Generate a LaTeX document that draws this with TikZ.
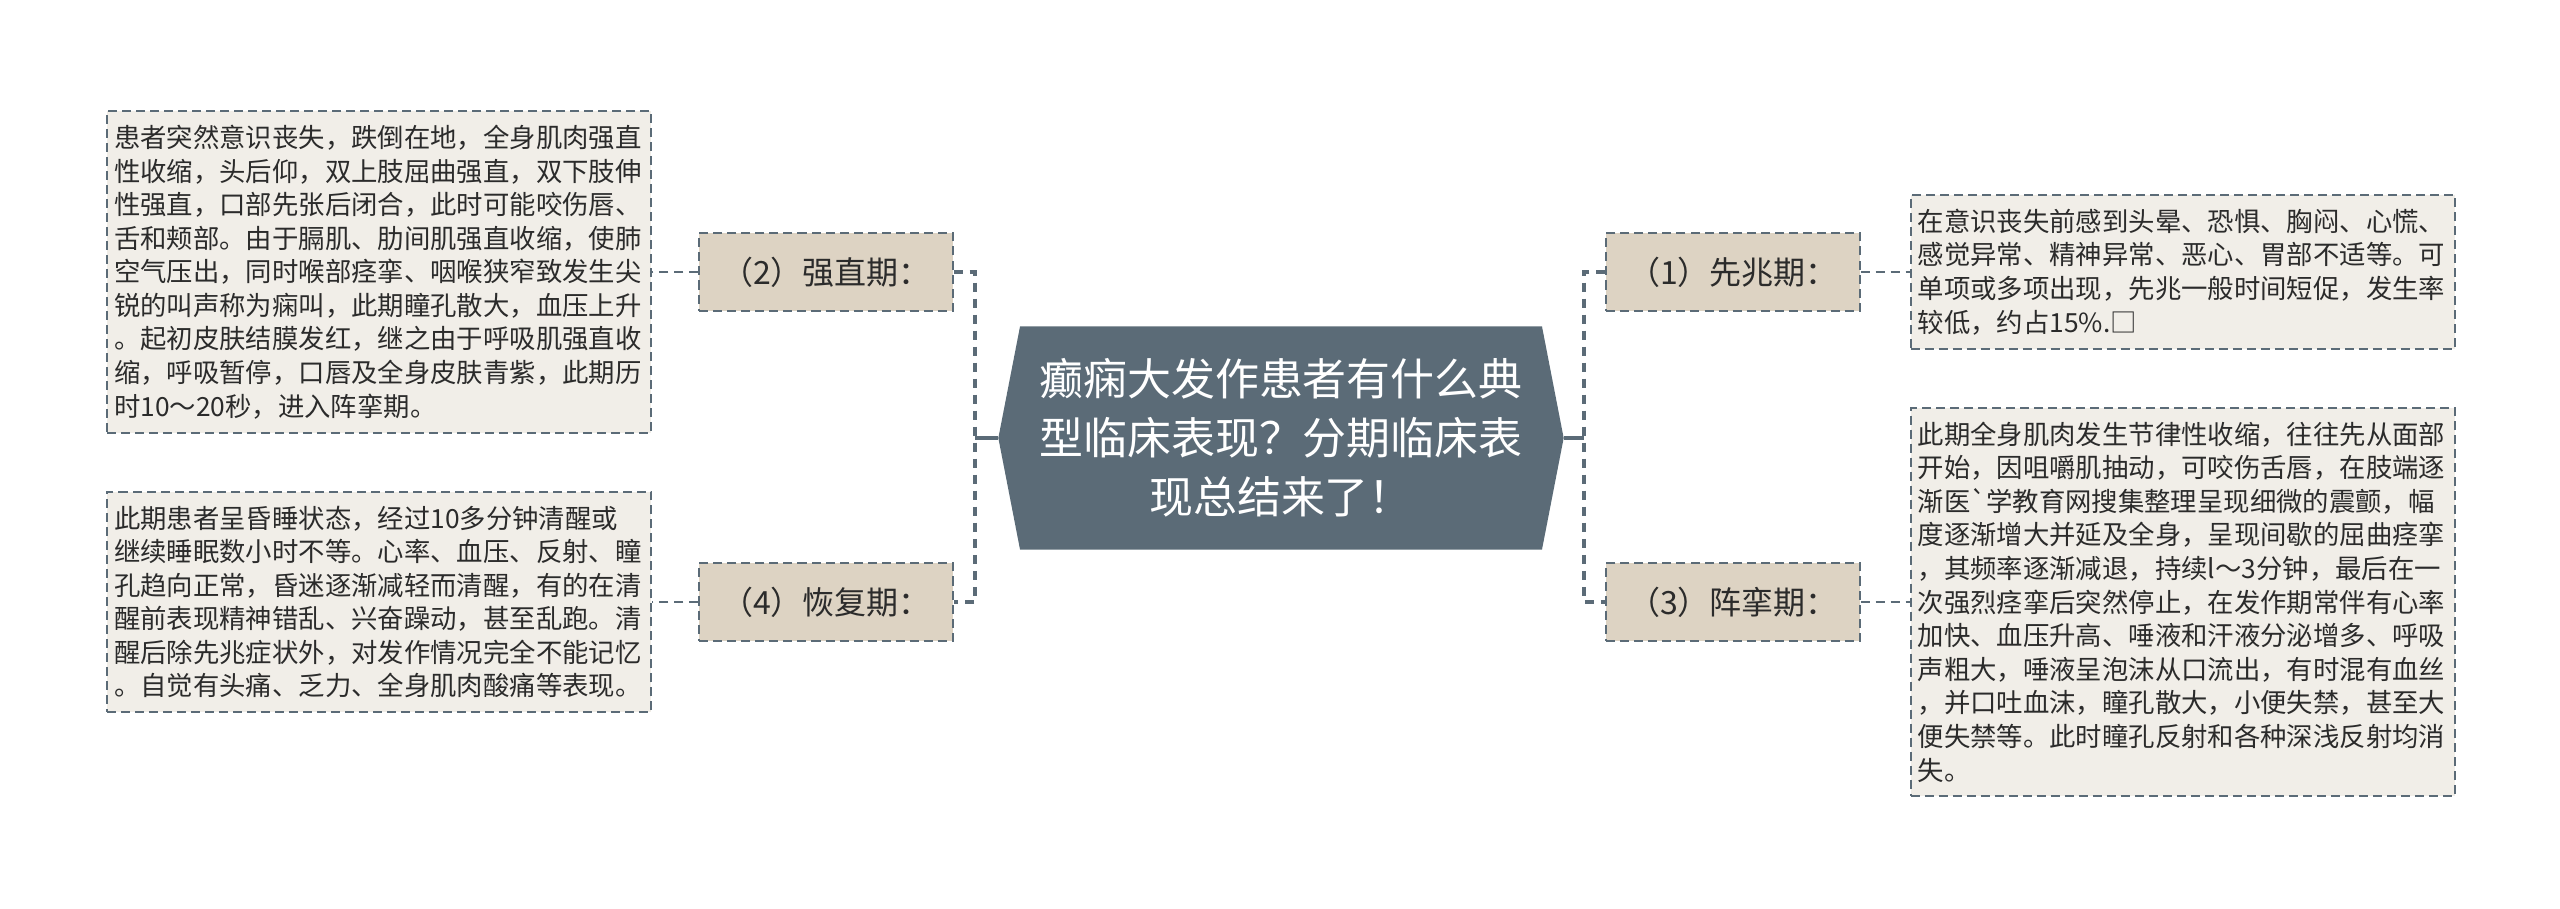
\documentclass[tikz,border=0pt]{standalone}
\usepackage{fontspec}
\setmainfont{Noto Sans CJK SC}
\usetikzlibrary{shapes.symbols,positioning}

\definecolor{slate}{HTML}{5B6B77}
\definecolor{sand}{HTML}{DDD3C3}
\definecolor{paper}{HTML}{F1EEE8}
\definecolor{ink}{HTML}{2B2B2B}

\begin{document}
\begin{tikzpicture}[
        x=0.01cm, y=-0.01cm,
        font=\fontsize{7.5pt}{9.55pt}\selectfont,
        node distance=0.47cm,
        hub/.style={
            signal,
            signal to=west and east,
            signal pointer angle=158,
            fill=slate,
            text=white,
            minimum width=5.65cm,
            minimum height=2.23cm,
            align=center,
            font=\fontsize{12.5pt}{16.8pt}\selectfont
        },
        phase/.style={
            rectangle,
            draw=slate,
            line width=0.02cm,
            dash pattern=on 0.09cm off 0.05cm,
            fill=sand,
            text=ink,
            minimum width=2.53cm,
            minimum height=0.77cm,
            font=\fontsize{9.1pt}{11pt}\selectfont
        },
        detail/.style={
            rectangle,
            draw=slate,
            line width=0.02cm,
            dash pattern=on 0.09cm off 0.05cm,
            fill=paper,
            text=ink,
            text width=5.3cm,
            inner xsep=0.07cm,
            inner ysep=0.14cm,
            align=left
        },
        link/.style={
            draw=slate,
            line width=0.02cm,
            dash pattern=on 0.09cm off 0.06cm
        },
        trunk/.style={
            draw=slate,
            line width=0.035cm,
            dash pattern=on 0.09cm off 0.07cm
        },
        stub/.style={
            draw=slate,
            line width=0.035cm
        }
    ]
    \useasboundingbox (0,0) rectangle (2560,909);
    % Central topic
    \node[hub] (topic) at (1281,438) {癫痫大发作患者有什么典\\型临床表现？分期临床表\\现总结来了！};
    % Phase labels
    \node[phase] (l2) at (826,272) {（2）强直期：};
    \node[phase] (l4) at (826,602) {（4）恢复期：};
    \node[phase] (l1) at (1733,272) {（1）先兆期：};
    \node[phase] (l3) at (1733,602) {（3）阵挛期：};
    % Junctions
    \coordinate (jl) at (975,438);
    \coordinate (jr) at (1584,438);
    % Topic to phases
    \draw[stub] (topic.west) -- (jl);
    \draw[stub] (topic.east) -- (jr);
    \draw[trunk] (l2.east) -| (jl) |- (l4.east);
    \draw[trunk] (l1.west) -| (jr) |- (l3.west);
    % Detail boxes
    \node[detail, left=0.46cm of l2] (d2) {患者突然意识丧失，跌倒在地，全身肌肉强直\\性收缩，头后仰，双上肢屈曲强直，双下肢伸\\性强直，口部先张后闭合，此时可能咬伤唇、\\舌和颊部。由于膈肌、肋间肌强直收缩，使肺\\空气压出，同时喉部痉挛、咽喉狭窄致发生尖\\锐的叫声称为痫叫，此期瞳孔散大，血压上升\\。起初皮肤结膜发红，继之由于呼吸肌强直收\\缩，呼吸暂停，口唇及全身皮肤青紫，此期历\\时10～20秒，进入阵挛期。};
    \node[detail, left=0.46cm of l4] (d4) {此期患者呈昏睡状态，经过10多分钟清醒或\\继续睡眠数小时不等。心率、血压、反射、瞳\\孔趋向正常，昏迷逐渐减轻而清醒，有的在清\\醒前表现精神错乱、兴奋躁动，甚至乱跑。清\\醒后除先兆症状外，对发作情况完全不能记忆\\。自觉有头痛、乏力、全身肌肉酸痛等表现。};
    \node[detail, right=0.49cm of l1] (d1) {在意识丧失前感到头晕、恐惧、胸闷、心慌、\\感觉异常、精神异常、恶心、胃部不适等。可\\单项或多项出现，先兆一般时间短促，发生率\\较低，约占15\%.□};
    \node[detail, right=0.49cm of l3] (d3) {此期全身肌肉发生节律性收缩，往往先从面部\\开始，因咀嚼肌抽动，可咬伤舌唇，在肢端逐\\渐医\textasciigrave 学教育网搜集整理呈现细微的震颤，幅\\度逐渐增大并延及全身，呈现间歇的屈曲痉挛\\，其频率逐渐减退，持续l～3分钟，最后在一\\次强烈痉挛后突然停止，在发作期常伴有心率\\加快、血压升高、唾液和汗液分泌增多、呼吸\\声粗大，唾液呈泡沫从口流出，有时混有血丝\\，并口吐血沫，瞳孔散大，小便失禁，甚至大\\便失禁等。此时瞳孔反射和各种深浅反射均消\\失。};
    % Phases to details
    \draw[link] (l2.west) -- (d2.east);
    \draw[link] (l4.west) -- (d4.east);
    \draw[link] (l1.east) -- (d1.west);
    \draw[link] (l3.east) -- (d3.west);
\end{tikzpicture}
\end{document}
